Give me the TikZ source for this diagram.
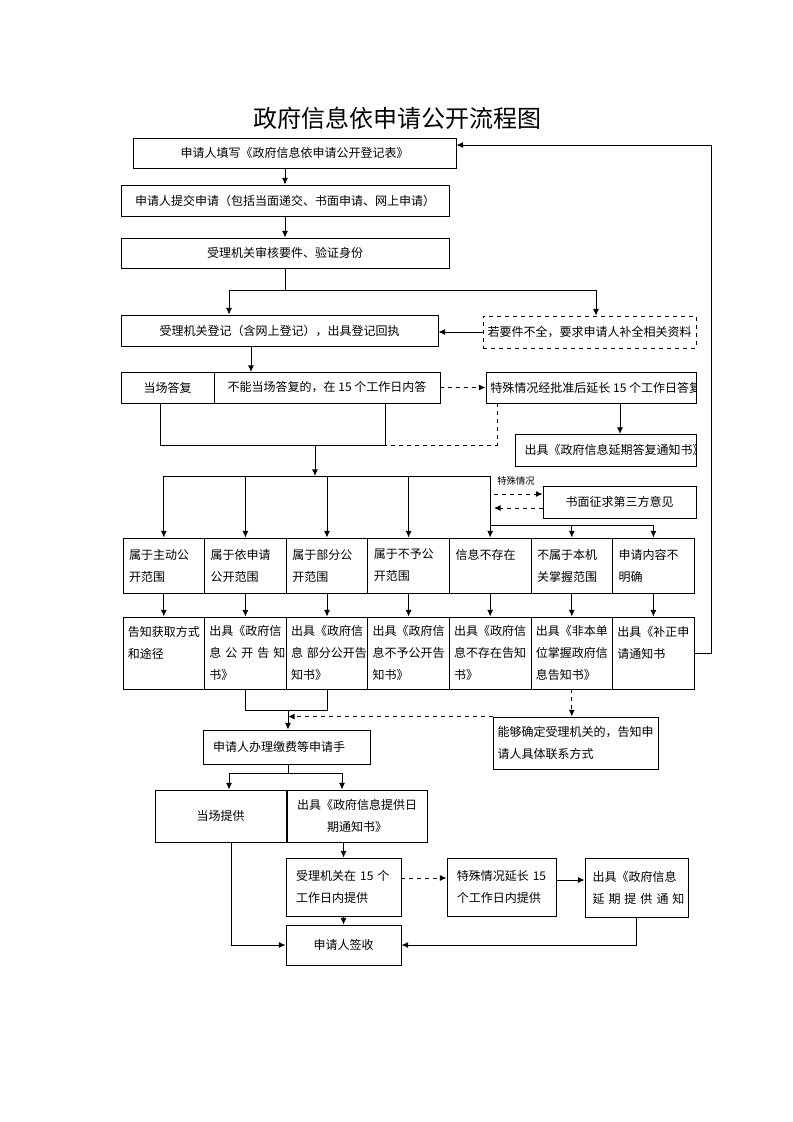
\documentclass[tikz,border=0pt]{standalone}
\usepackage{fontspec}
\setmainfont{Noto Sans CJK SC}
\usepackage{tikz}
\usetikzlibrary{arrows.meta}
\tikzstyle{box}=[rectangle,draw=black,line width=0.7pt,inner sep=0pt,
  font=\fontsize{9}{16.5}\selectfont,align=center]
\tikzstyle{dbox}=[box,dashed]
\tikzstyle{cell}=[box,text width=52pt,align=left]
\tikzstyle{txt}=[inner sep=0pt,font=\fontsize{9}{16.5}\selectfont]
\tikzstyle{ttl}=[inner sep=0pt,font=\fontsize{18}{20}\selectfont]
\tikzstyle{small}=[inner sep=0pt,font=\fontsize{7}{8}\selectfont]
\tikzstyle{arr}=[-{Latex[length=5pt,width=4.5pt]},line width=0.7pt]
\tikzstyle{ln}=[line width=0.7pt]
\tikzset{wh/.style 2 args={minimum width=#1*0.75pt,minimum height=#2*0.75pt}}

\begin{document}
\begin{tikzpicture}[x=0.75pt,y=-0.75pt]
  \useasboundingbox (0,0) rectangle (793,1122);
  \node [style=ttl] (title) at (397,118) {政府信息依申请公开流程图};
  % top of the flow
  \node [style=box,wh={323}{30}] (fill) at (294.5,153) {申请人填写《政府信息依申请公开登记表》};
  \node [style=box,wh={328}{31}] (submit) at (285,200.5) {申请人提交申请（包括当面递交、书面申请、网上申请）};
  \node [style=box,wh={328}{30}] (check) at (285,253) {受理机关审核要件、验证身份};
  \node [style=box,wh={317}{31}] (register) at (279.5,330.5) {受理机关登记（含网上登记），出具登记回执};
  \node [style=dbox,wh={213}{32}] (supply) at (589.5,332) {若要件不全，要求申请人补全相关资料};
  \node [style=box,wh={93}{31}] (onsite) at (167.5,387.5) {当场答复};
  \node [style=box,wh={226}{31}] (within) at (327,387.5) {不能当场答复的，在 15 个工作日内答};
  \node [style=box,wh={210}{31},path picture={
    \node [style=txt,anchor=west] (extendtext) at ([xshift=3pt]path picture bounding box.west)
      {特殊情况经批准后延长 15 个工作日答复};}] (extend) at (591,387.5) {};
  \node [style=box,wh={181}{32},path picture={
    \node [style=txt,anchor=west] (delaytext) at ([xshift=6.5pt]path picture bounding box.west)
      {出具《政府信息延期答复通知书》};}] (delay) at (605.5,450) {};
  \node [style=small] (special) at (516,481) {特殊情况};
  \node [style=box,wh={153}{32}] (third) at (619.5,502) {书面征求第三方意见};
  % kinds of answer
  \node [style=cell,wh={81.6}{55}] (active) at (163.8,565.5) {属于主动公\\开范围};
  \node [style=cell,wh={81.6}{55}] (byapp) at (245.4,565.5) {属于依申请\\公开范围};
  \node [style=cell,wh={81.6}{55}] (partial) at (327,565.5) {属于部分公\\开范围};
  \node [style=cell,wh={81.6}{55}] (denied) at (408.6,565.5) {属于不予公\\开范围};
  \node [style=cell,wh={81.6}{55}] (none) at (490.2,565.5) {信息不存在\\\mbox{}};
  \node [style=cell,wh={81.6}{55}] (notours) at (571.8,565.5) {不属于本机\\关掌握范围};
  \node [style=cell,wh={81.6}{55}] (unclear) at (653.4,565.5) {申请内容不\\明确};
  \node [style=cell,text width=54pt,wh={81.6}{72}] (howto) at (163.8,653) {告知获取方式\\和途径\\\mbox{}};
  \node [style=cell,text width=54pt,wh={81.6}{72}] (pubnote) at (245.4,653) {出具《政府信\\息~公~开~告~知\\书》};
  \node [style=cell,text width=54pt,wh={81.6}{72}] (partnote) at (327,653) {出具《政府信\\息~部分公开告\\知书》};
  \node [style=cell,text width=54pt,wh={81.6}{72}] (denynote) at (408.6,653) {出具《政府信\\息不予公开告\\知书》};
  \node [style=cell,text width=54pt,wh={81.6}{72}] (nonenote) at (490.2,653) {出具《政府信\\息不存在告知\\书》};
  \node [style=cell,text width=54pt,wh={81.6}{72}] (notournote) at (571.8,653) {出具《非本单\\位掌握政府信\\息告知书》};
  \node [style=cell,text width=54pt,wh={81.6}{72}] (fixnote) at (653.4,653) {出具《补正申\\请通知书\\\mbox{}};
  % bottom of the flow
  \node [style=box,wh={167}{34},text width=110pt,align=left] (fee) at (286.5,747) {申请人办理缴费等申请手};
  \node [style=box,wh={165}{52},text width=117pt,align=left] (contact) at (575.5,743) {能够确定受理机关的，告知申\\请人具体联系方式};
  \node [style=box,wh={131}{52}] (now) at (220.5,816) {当场提供};
  \node [style=box,wh={140}{52}] (notice) at (357,816) {出具《政府信息提供日\\期通知书》};
  \node [style=box,wh={115}{58},text width=71pt,align=left] (give15) at (343.5,887) {受理机关在 15 个\\工作日内提供};
  \node [style=box,wh={109}{58},text width=67pt,align=left] (ext) at (501.5,887) {特殊情况延长 15\\个工作日内提供};
  \node [style=box,wh={103}{59},text width=66pt,align=left] (extnote) at (636.5,887.5) {出具《政府信息\\延~期~提~供~通~知};
  \node [style=box,wh={115}{40}] (sign) at (343.5,945) {申请人签收};

  \coordinate (split) at (285,290);
  \coordinate (splitl) at (229,290);
  \coordinate (splitr) at (596,290);
  \coordinate (reg) at (251,372);
  \coordinate (dl) at (620,434);
  \coordinate (mgl) at (160,445);
  \coordinate (mg) at (315,445);
  \coordinate (mgr) at (385,445);
  \coordinate (busl) at (163.8,476);
  \coordinate (busr) at (490.2,476);
  \coordinate (br) at (490.2,525);
  \coordinate (tp1) at (494,494);
  \coordinate (tp2) at (494,508);
  \coordinate (fb) at (711,145);
  \coordinate (m2) at (288,710);
  \coordinate (m3) at (288,773);
  \coordinate (m3l) at (229,773);
  \coordinate (m3r) at (342,773);

  \draw [style=arr] (fill.south -| submit.north) to (submit.north);
  \draw [style=arr] (submit) to (check);
  \draw [style=ln] (check) to (split);
  \draw [style=arr] (split) -- (splitl) -- (splitl |- register.north);
  \draw [style=arr] (split) -- (splitr) -- (splitr |- supply.north);
  \draw [style=arr] (supply.west) -- (supply.west -| register.east);
  \draw [style=arr] (register.south -| reg) -- (reg);
  \draw [style=arr,dashed] (within) to (extend);
  \draw [style=arr] (extend.south -| dl) -- (dl);
  \draw [style=ln] (onsite.south -| mgl) -- (mgl) -- (mgr) -- (within.south -| mgr);
  \draw [style=ln,dashed] (extend.south -| 497,0) |- (mgr);
  \draw [style=arr] (mg) -- (mg |- busl);
  \draw [style=ln] (busl) -- (busr);
  \draw [style=arr] (busl) -- (active.north);
  \draw [style=arr] (byapp.north |- busl) -- (byapp.north);
  \draw [style=arr] (partial.north |- busl) -- (partial.north);
  \draw [style=arr] (denied.north |- busl) -- (denied.north);
  \draw [style=arr] (busr) -- (none.north);
  \draw [style=ln] (br) -- (unclear.north |- br);
  \draw [style=arr] (notours.north |- br) -- (notours.north);
  \draw [style=arr] (unclear.north |- br) -- (unclear.north);
  \draw [style=arr,dashed] (tp1) -- (tp1 -| third.west);
  \draw [style=arr,dashed] (tp2 -| third.west) -- (tp2);
  \draw [style=arr] (active) to (howto);
  \draw [style=arr] (byapp) to (pubnote);
  \draw [style=arr] (partial) to (partnote);
  \draw [style=arr] (denied) to (denynote);
  \draw [style=arr] (none) to (nonenote);
  \draw [style=arr] (notours) to (notournote);
  \draw [style=arr] (unclear) to (fixnote);
  \draw [style=arr] (fixnote.east) -| (fb) -- (fill.east |- fb);
  \draw [style=ln] (pubnote) |- (m2) -| (partnote);
  \draw [style=arr] (m2) -- (m2 |- fee.north);
  \draw [style=arr,dashed] (notournote) -- (notournote |- contact.north);
  \draw [style=arr,dashed] (contact.north west) -- (contact.north west -| m2);
  \draw [style=ln] (fee.south -| m3) -- (m3);
  \draw [style=arr] (m3) -- (m3l) -- (m3l |- now.north);
  \draw [style=arr] (m3) -- (m3r) -- (m3r |- notice.north);
  \draw [style=arr] (notice.south -| give15) -- (give15);
  \draw [style=arr,dashed] (give15.east |- 0,878) -- (ext.west |- 0,878);
  \draw [style=arr] (ext.east |- 0,880) -- (extnote.west |- 0,880);
  \draw [style=arr] (give15) to (sign);
  \draw [style=arr] (now.south -| 231,0) |- (sign.west);
  \draw [style=arr] (extnote) |- (sign);
\end{tikzpicture}
\end{document}
